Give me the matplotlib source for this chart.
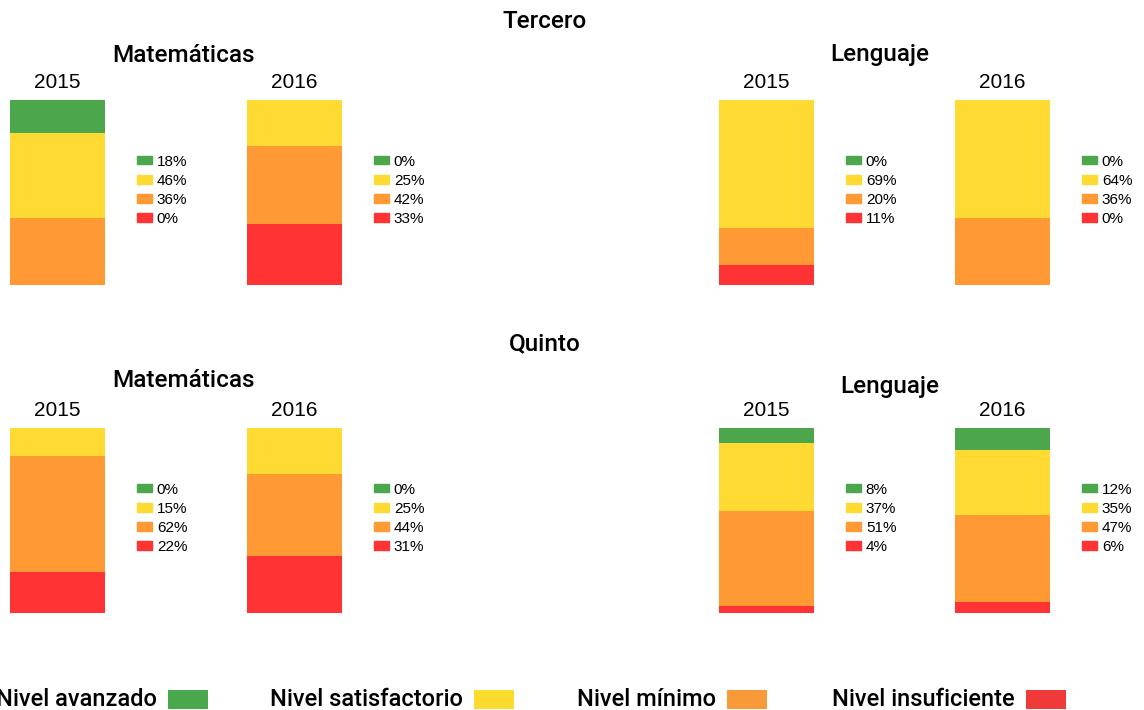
import numpy as np
import matplotlib.pyplot as plt
from matplotlib.patches import Patch

W, H = 1144, 710

niveles = ['Nivel avanzado', 'Nivel satisfactorio', 'Nivel mínimo', 'Nivel insuficiente']
colores = ['#4ca64c', '#ffda33', '#ff9933', '#ff3333']
colores_leyenda = ['#4aa84c', '#fbdb2e', '#f99a38', '#f03a3a']

grados = ['Tercero', 'Quinto']
asignaturas = ['Matemáticas', 'Lenguaje']
anios = ['2015', '2016']

# avanzado, satisfactorio, minimo, insuficiente
tercero_mat_2015 = [18, 46, 36, 0]
tercero_mat_2016 = [0, 25, 42, 33]
tercero_len_2015 = [0, 69, 20, 11]
tercero_len_2016 = [0, 64, 36, 0]
quinto_mat_2015 = [0, 15, 62, 22]
quinto_mat_2016 = [0, 25, 44, 31]
quinto_len_2015 = [8, 37, 51, 4]
quinto_len_2016 = [12, 35, 47, 6]

datos = {
    ('Tercero', 'Matemáticas'): [tercero_mat_2015, tercero_mat_2016],
    ('Tercero', 'Lenguaje'): [tercero_len_2015, tercero_len_2016],
    ('Quinto', 'Matemáticas'): [quinto_mat_2015, quinto_mat_2016],
    ('Quinto', 'Lenguaje'): [quinto_len_2015, quinto_len_2016],
}

fig = plt.figure(figsize=(W / 100, H / 100), dpi=100)


def fx(px):
    return px / W


def fy(py):
    return 1 - py / H


titulo_font = dict(family=['Roboto', 'DejaVu Sans'], fontweight='medium', fontsize=17.5)
anio_font = dict(family=['Liberation Sans', 'DejaVu Sans'], fontsize=15)

fila_top = {'Tercero': 0, 'Quinto': 328}
grado_y = {'Tercero': 22, 'Quinto': 344}
asig_y = {('Tercero', 'Matemáticas'): 55, ('Tercero', 'Lenguaje'): 55,
          ('Quinto', 'Matemáticas'): 381, ('Quinto', 'Lenguaje'): 386}
asig_x = {('Tercero', 'Matemáticas'): 183, ('Tercero', 'Lenguaje'): 880,
          ('Quinto', 'Matemáticas'): 183, ('Quinto', 'Lenguaje'): 890}
barra_x = {'Matemáticas': [10, 247], 'Lenguaje': [719, 955]}
barra_w = 95

for g in grados:
    dy = fila_top[g]
    fig.text(fx(545), fy(grado_y[g]), g, ha='center', va='center', **titulo_font)
    for a in asignaturas:
        fig.text(fx(asig_x[(g, a)]), fy(asig_y[(g, a)]), a, ha='center', va='center', **titulo_font)
        for k, anio in enumerate(anios):
            vals = datos[(g, a)][k]
            x0 = barra_x[a][k]
            ax = fig.add_axes([fx(x0), fy(285 + dy), barra_w / W, 185 / H])
            fondo = 0
            # apiladas desde abajo: insuficiente, minimo, satisfactorio, avanzado
            for i in [3, 2, 1, 0]:
                ax.bar([0], [vals[i]], bottom=fondo, width=1, color=colores[i],
                       edgecolor='none')
                fondo += vals[i]
            ax.set_xlim(-0.5, 0.5)
            ax.set_ylim(0, sum(vals))
            ax.axis('off')
            fig.text(fx(x0 + barra_w / 2), fy(82 + dy), anio, ha='center', va='center', **anio_font)
            handles = [Patch(color=colores[i]) for i in range(4)]
            etiquetas = [f'{v}%' for v in vals]
            fig.legend(handles, etiquetas, loc='upper left',
                       bbox_to_anchor=(fx(x0 + barra_w + 32), fy(154.5 + dy)),
                       frameon=False, prop=dict(family='Liberation Sans', size=11),
                       handlelength=1.0, handleheight=0.5, handletextpad=0.3,
                       labelspacing=0.335, borderpad=0, borderaxespad=0)

# leyenda inferior
ley_font = dict(family=['Roboto', 'DejaVu Sans'], fontweight='medium', fontsize=17)
texto_fin = [157, 463, 716, 1015]
for i, nivel in enumerate(niveles):
    fig.text(fx(texto_fin[i]), fy(700), nivel, ha='right', va='center', **ley_font)
    lx = fig.add_axes([fx(texto_fin[i] + 11), fy(709), 40 / W, 19 / H])
    lx.bar([0], [1], width=1, color=colores_leyenda[i])
    lx.set_xlim(-0.5, 0.5)
    lx.set_ylim(0, 1)
    lx.axis('off')

fig.savefig('out.png', dpi=100)
